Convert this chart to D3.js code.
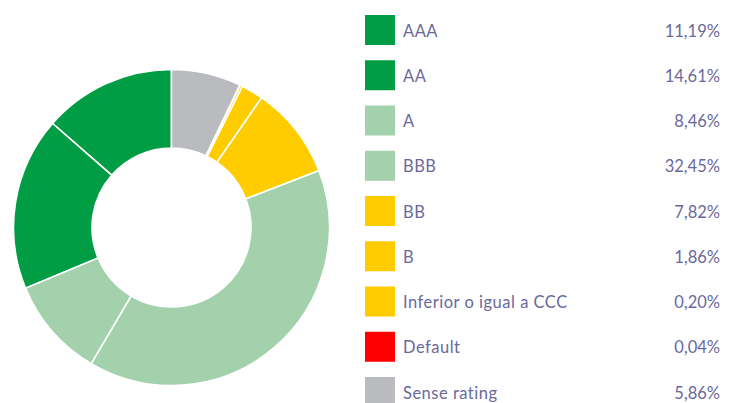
<!DOCTYPE html>
<html><head><meta charset="utf-8">
<script src="https://cdn.jsdelivr.net/npm/d3@7/dist/d3.min.js"></script>
<style>html,body{margin:0;padding:0;background:#fff;}svg{display:block;}</style>
</head><body>
<svg id="chart" width="742" height="403"></svg>
<script>
const categories = ["AAA","AA","A","BBB","BB","B","Inferior o igual a CCC","Default","Sense rating"];
const values = [11.19,14.61,8.46,32.45,7.82,1.86,0.20,0.04,5.86];
const valueLabels = ["11,19%","14,61%","8,46%","32,45%","7,82%","1,86%","0,20%","0,04%","5,86%"];
const colors = ["#009d45","#009d45","#a2d1ac","#a2d1ac","#ffcc00","#ffcc00","#ffcc00","#ff0000","#b9bbbf"];

const svg = d3.select("#chart");
const data = categories.map((c,i)=>({name:c,value:values[i],label:valueLabels[i],color:colors[i]}));

const cx = 171.5, cy = 227.5, R = 158, r = 79.5;
const pie = d3.pie().value(d=>d.value).sort(null).startAngle(0).endAngle(-2*Math.PI);
const arc = d3.arc().innerRadius(r).outerRadius(R);
const g = svg.append("g").attr("transform",`translate(${cx},${cy})`);
g.selectAll("path").data(pie(data)).join("path")
  .attr("d",arc).attr("fill",d=>d.data.color)
  .attr("stroke","#fff").attr("stroke-width",1.6);

const y = d3.scaleBand().domain(categories).range([15, 15+45.25*9]).paddingInner(0);
const lg = svg.append("g");
const rows = lg.selectAll("g").data(data).join("g")
  .attr("transform",d=>`translate(0,${y(d.name)})`);
rows.append("rect").attr("x",365).attr("y",0).attr("width",30).attr("height",30).attr("fill",d=>d.color);
rows.append("text").attr("x",403).attr("y",15.5).attr("dominant-baseline","central")
  .attr("font-family","Lato, 'Open Sans', sans-serif").attr("font-size",16.5).attr("letter-spacing",0.5).attr("fill","#6a699c")
  .text(d=>d.name);
rows.append("text").attr("x",720).attr("y",15.5).attr("dominant-baseline","central").attr("text-anchor","end")
  .attr("font-family","Lato, 'Open Sans', sans-serif").attr("font-size",16.5).attr("fill","#6a699c")
  .text(d=>d.label);
</script>
</body></html>
